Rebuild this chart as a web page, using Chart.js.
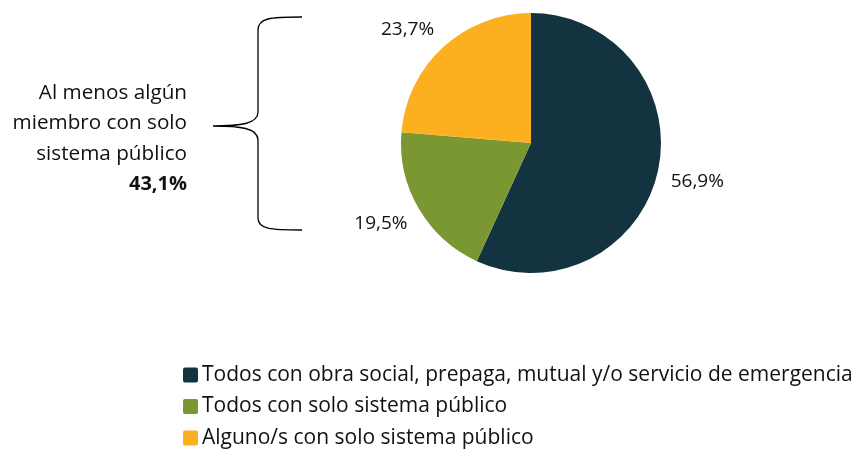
<!DOCTYPE html>
<html>
<head>
<meta charset="utf-8">
<script src="https://cdn.jsdelivr.net/npm/chart.js@4"></script>
<style>
  body { margin: 0; background: #fff; }
</style>
</head>
<body>
<canvas id="graficoCobertura" width="857" height="450"></canvas>
<script>
var categorias = ['Todos con obra social, prepaga, mutual y/o servicio de emergencia', 'Todos con solo sistema público', 'Alguno/s con solo sistema público'];
var valores = [56.9, 19.5, 23.7];
var colores = ['#133341', '#7A9731', '#FCAF1F'];
var textoLlave = ['Al menos algún', 'miembro con solo', 'sistema público'];
var totalLlave = '43,1%';

var fuente = '"Open Sans", Lato, sans-serif';

// etiquetas de porcentaje fuera de cada porcion
var etiquetas = {
    id: 'etiquetas',
    afterDatasetsDraw: function(chart) {
        var c = chart.ctx;
        var arcos = chart.getDatasetMeta(0).data;
        c.save();
        c.font = '19px ' + fuente;
        c.fillStyle = '#111';
        c.textAlign = 'center';
        c.textBaseline = 'middle';
        arcos.forEach(function(a, i) {
            var txt = valores[i].toFixed(1).replace('.', ',') + '%';
            var w = c.measureText(txt).width;
            var ang = (a.startAngle + a.endAngle) / 2;
            var d = a.outerRadius + 13;
            var px = a.x + d * Math.cos(ang);
            var py = a.y + d * Math.sin(ang);
            px += Math.sign(Math.cos(ang)) * w / 2;
            py += Math.sign(Math.sin(ang)) * 8;
            c.fillText(txt, px, py);
        });
        c.restore();
    }
};

// llave y texto a la izquierda
var llave = {
    id: 'llave',
    afterDraw: function(chart) {
        var c = chart.ctx;
        c.save();
        c.strokeStyle = '#000';
        c.lineWidth = 1.3;
        c.beginPath();
        c.moveTo(302, 17);
        c.bezierCurveTo(270, 17, 258, 18, 258, 30);
        c.lineTo(258, 112);
        c.bezierCurveTo(258, 124, 240, 126, 213, 126);
        c.bezierCurveTo(240, 126, 258, 128, 258, 140);
        c.lineTo(258, 218);
        c.bezierCurveTo(258, 229, 270, 230, 302, 230);
        c.stroke();

        c.fillStyle = '#111';
        c.textAlign = 'right';
        c.textBaseline = 'middle';
        c.font = '20.7px ' + fuente;
        textoLlave.forEach(function(t, i) {
            c.fillText(t, 187, 93 + i * 30.5);
        });
        c.font = 'bold 20px ' + fuente;
        c.fillText(totalLlave, 187, 93 + 3 * 30.5);
        c.restore();
    }
};

// leyenda en columna
var leyenda = {
    id: 'leyenda',
    afterDraw: function(chart) {
        var c = chart.ctx;
        c.save();
        c.font = '21px ' + fuente;
        c.textBaseline = 'middle';
        c.textAlign = 'left';
        categorias.forEach(function(t, i) {
            var y = 375 + i * 31.5;
            c.fillStyle = colores[i];
            c.beginPath();
            c.roundRect(183, y - 7.5, 15, 15, 2);
            c.fill();
            c.fillStyle = '#111';
            c.fillText(t, 202, y);
        });
        c.restore();
    }
};

var ctx = document.getElementById('graficoCobertura').getContext('2d');
var grafico = new Chart(ctx, {
    type: 'pie',
    data: {
        labels: categorias,
        datasets: [{
            data: valores,
            backgroundColor: colores,
            borderWidth: 0
        }]
    },
    options: {
        responsive: false,
        animation: false,
        layout: {
            padding: { left: 401, right: 196, top: 13, bottom: 177 }
        },
        plugins: {
            legend: { display: false },
            tooltip: { enabled: false }
        }
    },
    plugins: [etiquetas, llave, leyenda]
});
</script>
</body>
</html>
